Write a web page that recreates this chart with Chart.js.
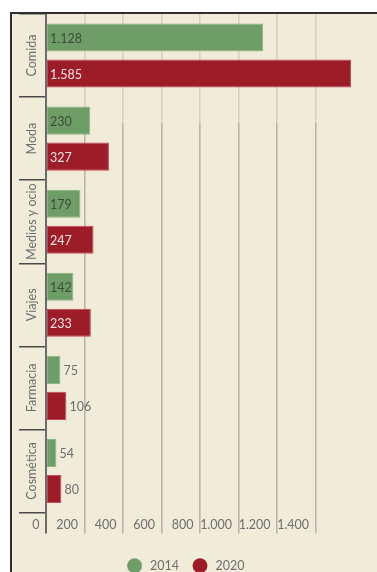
<!DOCTYPE html>
<html>
<head>
<meta charset="utf-8">
<script src="https://cdn.jsdelivr.net/npm/chart.js@4.4.1/dist/chart.umd.min.js"></script>
<style>
    html, body { margin: 0; padding: 0; background: #fff; overflow: hidden; }
    #panel {
        position: absolute; left: 10px; top: 12px;
        width: 380px; height: 575px;
        background: #f1ebd9;
        border-left: 2px solid #2e2e2e;
        border-top: 2px solid #2e2e2e;
    }
    #chart { display: block; }
</style>
</head>
<body>
<div id="panel"><canvas id="chart"></canvas></div>
<script>
// categorias y valores (millones)
const categories = ['Comida', 'Moda', 'Medios y ocio', 'Viajes', 'Farmacia', 'Cosmética'];
const years = ['2014', '2020'];
const values2014 = [1128, 230, 179, 142, 75, 54];
const values2020 = [1585, 327, 247, 233, 106, 80];
const xTickStep = 200;
const xMax = 1600;

const GREEN = '#6f9d68';
const RED = '#9c1d27';
const TEXT_GRAY = '#6e6e6e';
const FONT = 'Lato';

// 1128 -> "1.128"
function fmt(v) {
    return String(v).replace(/\B(?=(\d{3})+(?!\d))/g, '.');
}

// ============ etiquetas de valor en las barras ============
const valueLabels = {
    id: 'valueLabels',
    afterDatasetsDraw(chart) {
        const ctx = chart.ctx;
        const insideColors = ['#3e4a3b', '#f6e4e4'];
        ctx.save();
        ctx.font = '12.5px ' + FONT;
        ctx.textBaseline = 'middle';
        ctx.textAlign = 'left';
        chart.data.datasets.forEach((ds, di) => {
            chart.getDatasetMeta(di).data.forEach((bar, i) => {
                const txt = fmt(ds.data[i]);
                const w = ctx.measureText(txt).width;
                const len = bar.x - bar.base;
                if (len >= w + 3) {
                    ctx.fillStyle = insideColors[di];
                    ctx.fillText(txt, bar.base + 3, bar.y + 1);
                } else {
                    ctx.fillStyle = TEXT_GRAY;
                    ctx.fillText(txt, bar.x + 3, bar.y + 1);
                }
            });
        });
        ctx.restore();
    }
};

// ============ categorias en vertical ============
const categoryLabels = {
    id: 'categoryLabels',
    afterDraw(chart) {
        const ctx = chart.ctx;
        const y = chart.scales.y;
        const cx = (y.left + y.right) / 2 - 1;
        ctx.save();
        ctx.font = '12.5px ' + FONT;
        ctx.fillStyle = TEXT_GRAY;
        ctx.textAlign = 'center';
        ctx.textBaseline = 'middle';
        categories.forEach((c, i) => {
            ctx.save();
            ctx.translate(cx, y.getPixelForTick(i));
            ctx.rotate(-Math.PI / 2);
            ctx.fillText(c, 0, 0);
            ctx.restore();
        });
        ctx.restore();
    }
};

function gridColor(c) {
    if (c.tick.value === 0) return '#6b6b6b';
    if (c.tick.value === xMax) return 'rgba(0,0,0,0)';
    const area = c.chart.chartArea;
    if (!area) return '#bcb8ad';
    const g = c.chart.ctx.createLinearGradient(0, area.top, 0, area.top + 110);
    g.addColorStop(0, '#d9d2c1');
    g.addColorStop(0.98, '#d9d2c1');
    g.addColorStop(1, '#b9b6ac');
    return g;
}

new Chart(document.getElementById('chart'), {
    type: 'bar',
    data: {
        labels: categories,
        datasets: [
            {
                label: years[0],
                data: values2014,
                backgroundColor: GREEN,
                borderColor: '#8ab784',
                borderWidth: 1,
                borderSkipped: false,
                categoryPercentage: 0.867,
                barPercentage: 0.78
            },
            {
                label: years[1],
                data: values2020,
                backgroundColor: RED,
                borderColor: '#c04a55',
                borderWidth: 1,
                borderSkipped: false,
                categoryPercentage: 0.867,
                barPercentage: 0.78
            }
        ]
    },
    options: {
        indexAxis: 'y',
        responsive: true,
        maintainAspectRatio: false,
        animation: false,
        layout: { padding: { left: 7, right: 38, top: 0, bottom: 7 } },
        scales: {
            x: {
                min: 0,
                max: xMax,
                border: { display: false },
                grid: {
                    color: gridColor,
                    lineWidth: c => (c.tick.value === 0 ? 2 : 1.6),
                    drawTicks: true,
                    tickLength: 21
                },
                ticks: {
                    stepSize: xTickStep,
                    autoSkip: false,
                    maxRotation: 0,
                    align: 'end',
                    padding: -16,
                    color: TEXT_GRAY,
                    font: { family: FONT, size: 12.5 },
                    callback: v => (v === xMax ? '' : fmt(v) + '  ')
                },
                afterFit: s => { s.height = 32; }
            },
            y: {
                border: { display: true, color: '#6b6b6b', width: 2 },
                grid: {
                    offset: true,
                    drawOnChartArea: false,
                    drawTicks: true,
                    tickLength: 27,
                    color: '#4a4a4a',
                    lineWidth: 1.5
                },
                ticks: { display: false },
                afterFit: s => { s.width = 27; }
            }
        },
        plugins: {
            legend: {
                position: 'bottom',
                labels: {
                    usePointStyle: true,
                    pointStyle: 'circle',
                    boxWidth: 12,
                    boxHeight: 10.5,
                    padding: 15,
                    color: TEXT_GRAY,
                    font: { family: FONT, size: 12.5 },
                    generateLabels(chart) {
                        return chart.data.datasets.map((ds, i) => ({
                            text: ' ' + ds.label,
                            fillStyle: ds.backgroundColor,
                            strokeStyle: ds.backgroundColor,
                            lineWidth: 0,
                            pointStyle: 'circle',
                            fontColor: TEXT_GRAY,
                            datasetIndex: i
                        }));
                    }
                }
            },
            tooltip: { enabled: false }
        }
    },
    plugins: [valueLabels, categoryLabels]
});
</script>
</body>
</html>
